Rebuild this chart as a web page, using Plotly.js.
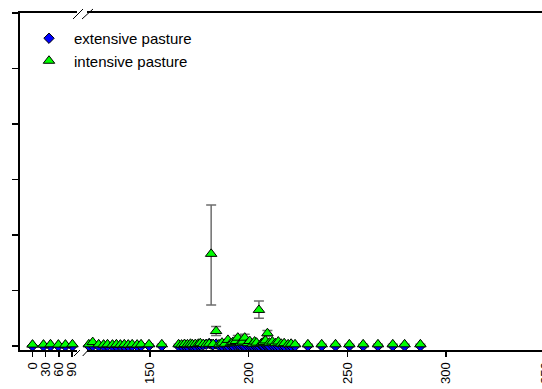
<!DOCTYPE html>
<html>
<head>
<meta charset="utf-8">
<script src="https://cdn.plot.ly/plotly-3.0.1.min.js"></script>
<style>html,body{margin:0;padding:0;background:#fff;overflow:hidden;}#chart{width:542px;height:389px;}</style>
</head>
<body>
<div id="chart"></div>
<script>
// ---- early segment (left of the axis break) ----
const earlyDays = [0, 25, 41, 59, 75, 91, 104];
const earlyExt  = [0.0, 0.0, 0.0, 0.0, 0.0, 0.0, 0.0];
const earlyInt  = [0.25, 0.25, 0.3, 0.25, 0.25, 0.3, 0.25];

// ---- late segment (right of the axis break) ----
const lateDays = [119, 121, 124, 126.5, 128.5, 131, 133, 135, 137, 139, 141, 143.5, 145.5, 149.5, 156,
  164.5, 166, 167.5, 169, 170.5, 171.5, 173, 174.5, 175.5, 177, 178.5, 180, 181, 182, 183.5, 185,
  186.5, 188, 189.5, 191, 192, 193.5, 194.5, 196, 197, 198, 199.5, 200.5, 202, 203, 204, 205.2,
  206.5, 207.5, 208.5, 209.5, 210.5, 212, 213.5, 215, 216.5, 218, 220, 221.5, 223.5,
  230, 237, 244, 251, 258, 265.5, 273, 279, 287];
const lateExt = [0.05, 0.05, 0.0, 0.0, 0.05, 0.0, 0.0, 0.05, 0.0, 0.0, 0.05, 0.0, 0.0, 0.05, 0.0,
  0.0, 0.05, 0.1, 0.0, 0.1, 0.05, 0.0, 0.1, 0.15, 0.2, 0.3, 0.45, 0.3, 0.2, 0.35, 0.1,
  0.05, 0.15, 0.0, 0.1, 0.05, 0.15, 0.2, 0.0, 0.1, 0.0, 0.05, 0.15, 0.0, 0.1, 0.05, 0.0,
  0.1, 0.0, 0.15, 0.05, 0.0, 0.1, 0.05, 0.0, 0.1, 0.0, 0.05, 0.0, 0.0,
  0.0, 0.0, 0.0, 0.0, 0.0, 0.0, 0.0, 0.0, 0.0];
const lateInt = [0.3, 0.7, 0.3, 0.25, 0.3, 0.25, 0.3, 0.25, 0.3, 0.25, 0.3, 0.25, 0.3, 0.3, 0.3,
  0.3, 0.25, 0.35, 0.3, 0.4, 0.3, 0.35, 0.4, 0.5, 0.35, 0.3, 0.4, 16.6, 0.35, 2.7, 0.3,
  0.6, 0.4, 1.1, 0.5, 0.7, 0.9, 1.5, 0.6, 0.8, 1.5, 0.5, 0.9, 0.4, 0.8, 0.6, 6.5,
  0.5, 0.7, 1.0, 2.3, 0.6, 0.8, 0.5, 0.8, 0.4, 0.5, 0.3, 0.4, 0.3,
  0.3, 0.3, 0.3, 0.3, 0.3, 0.3, 0.3, 0.3, 0.3];
const lateIntErrPlus = [null, null, null, null, null, null, null, null, null, null, null, null, null, null, null,
  null, null, null, null, null, null, null, null, null, null, null, null, 8.8, null, 0.8, null,
  null, null, null, null, null, null, 0.4, null, null, 0.6, null, null, null, null, null, 1.6,
  null, null, null, 0.5, null, null, null, null, null, null, null, null, null,
  null, null, null, null, null, null, null, null, null];
const lateIntErrMinus = [null, null, null, null, null, null, null, null, null, null, null, null, null, null, null,
  null, null, null, null, null, null, null, null, null, null, null, null, 9.2, null, 0.8, null,
  null, null, null, null, null, null, 0.4, null, null, 0.6, null, null, null, null, null, 1.5,
  null, null, null, 0.5, null, null, null, null, null, null, null, null, null,
  null, null, null, null, null, null, null, null, null];

// ---- axis ticks and names ----
const earlyTicks = [0, 30, 60, 90];
const lateTicks = [150, 200, 250, 300];
const yTicks = [0, 10, 20, 30, 40, 50, 60];
const seriesNames = ['extensive pasture', 'intensive pasture'];

const FONT = 'Liberation Sans, Arial, sans-serif';
const extMarker = {symbol: 'diamond', size: 8, color: '#0000ff', line: {color: '#000', width: 1}};
const intMarker = {symbol: 'triangle-up', size: 10, color: '#00ff00', line: {color: '#000', width: 1}};
const errStyle = {color: '#6e6e6e', thickness: 1.5, width: 5};

const traces = [
  {x: earlyDays, y: earlyExt, xaxis: 'x', yaxis: 'y', type: 'scatter', mode: 'markers',
   name: seriesNames[0], legendgroup: 'ext', marker: extMarker, cliponaxis: false},
  {x: lateDays, y: lateExt, xaxis: 'x2', yaxis: 'y2', type: 'scatter', mode: 'markers',
   name: seriesNames[0], legendgroup: 'ext', showlegend: false, marker: extMarker, cliponaxis: false},
  {x: earlyDays, y: earlyInt, xaxis: 'x', yaxis: 'y', type: 'scatter', mode: 'markers',
   name: seriesNames[1], legendgroup: 'int', marker: intMarker, cliponaxis: false},
  {x: lateDays, y: lateInt, xaxis: 'x2', yaxis: 'y2', type: 'scatter', mode: 'markers',
   name: seriesNames[1], legendgroup: 'int', showlegend: false, marker: intMarker, cliponaxis: false,
   error_y: Object.assign({type: 'data', symmetric: false, array: lateIntErrPlus, arrayminus: lateIntErrMinus}, errStyle)}
];

const W = 522; // plot width in px (l=20, r=0)
const H = 337; // plot height in px (t=13, b=39)
const axCommon = {showline: true, linecolor: '#000', linewidth: 2, mirror: true,
  ticks: 'outside', ticklen: 5, tickwidth: 1.5, tickcolor: '#000',
  showgrid: false, zeroline: false, tickangle: -90,
  tickfont: {family: FONT, size: 13, color: '#000'}, fixedrange: true};
const yRange = [-0.72, 60];

const layout = {
  width: 542, height: 389,
  margin: {l: 20, r: 0, t: 13, b: 39, pad: 0},
  paper_bgcolor: '#fff', plot_bgcolor: '#fff',
  showlegend: true,
  legend: {x: 4 / W, y: 1 - 9 / H, xanchor: 'left', yanchor: 'top', bgcolor: 'rgba(0,0,0,0)',
    font: {family: FONT, size: 15, color: '#000'}, itemwidth: 40, tracegroupgap: 0},
  xaxis: Object.assign({}, axCommon, {domain: [0, 57 / W], range: [-28.5, 101.4],
    tickmode: 'array', tickvals: earlyTicks, ticktext: earlyTicks.map(String), anchor: 'y'}),
  xaxis2: Object.assign({}, axCommon, {domain: [67 / W, 1], range: [118.1, 348.6],
    tickmode: 'array', tickvals: lateTicks, ticktext: lateTicks.map(String), anchor: 'y2'}),
  yaxis: {range: yRange, domain: [0, 1], showline: true, linecolor: '#000', linewidth: 2,
    ticks: 'outside', ticklen: 6, tickwidth: 1.5, tickcolor: '#000', showticklabels: false,
    tickmode: 'array', tickvals: yTicks, showgrid: false, zeroline: false, anchor: 'x', fixedrange: true},
  yaxis2: {range: yRange, domain: [0, 1], anchor: 'x2', visible: false, showline: false,
    ticks: '', showticklabels: false, showgrid: false, zeroline: false, fixedrange: true},
  shapes: [
    // axis-break marks, top
    {type: 'line', xref: 'paper', yref: 'paper', x0: 53 / W, x1: 63 / W, y0: 1 - 6 / H, y1: 1 + 4 / H, line: {color: '#000', width: 1}},
    {type: 'line', xref: 'paper', yref: 'paper', x0: 62 / W, x1: 73 / W, y0: 1 - 6 / H, y1: 1 + 4 / H, line: {color: '#000', width: 1}},
    // axis-break marks, bottom
    {type: 'line', xref: 'paper', yref: 'paper', x0: 54 / W, x1: 60 / W, y0: -6 / H, y1: 0, line: {color: '#000', width: 1}},
    {type: 'line', xref: 'paper', yref: 'paper', x0: 62.7 / W, x1: 68.3 / W, y0: -6 / H, y1: 0, line: {color: '#000', width: 1}}
  ],
  annotations: [
    {text: '350', xref: 'paper', yref: 'paper', x: 525 / W, y: -23 / H, showarrow: false,
     textangle: -90, xanchor: 'center', yanchor: 'middle',
     font: {family: FONT, size: 13, color: '#000'}}
  ]
};

Plotly.newPlot('chart', traces, layout, {displayModeBar: false, staticPlot: true});
</script>
</body>
</html>
